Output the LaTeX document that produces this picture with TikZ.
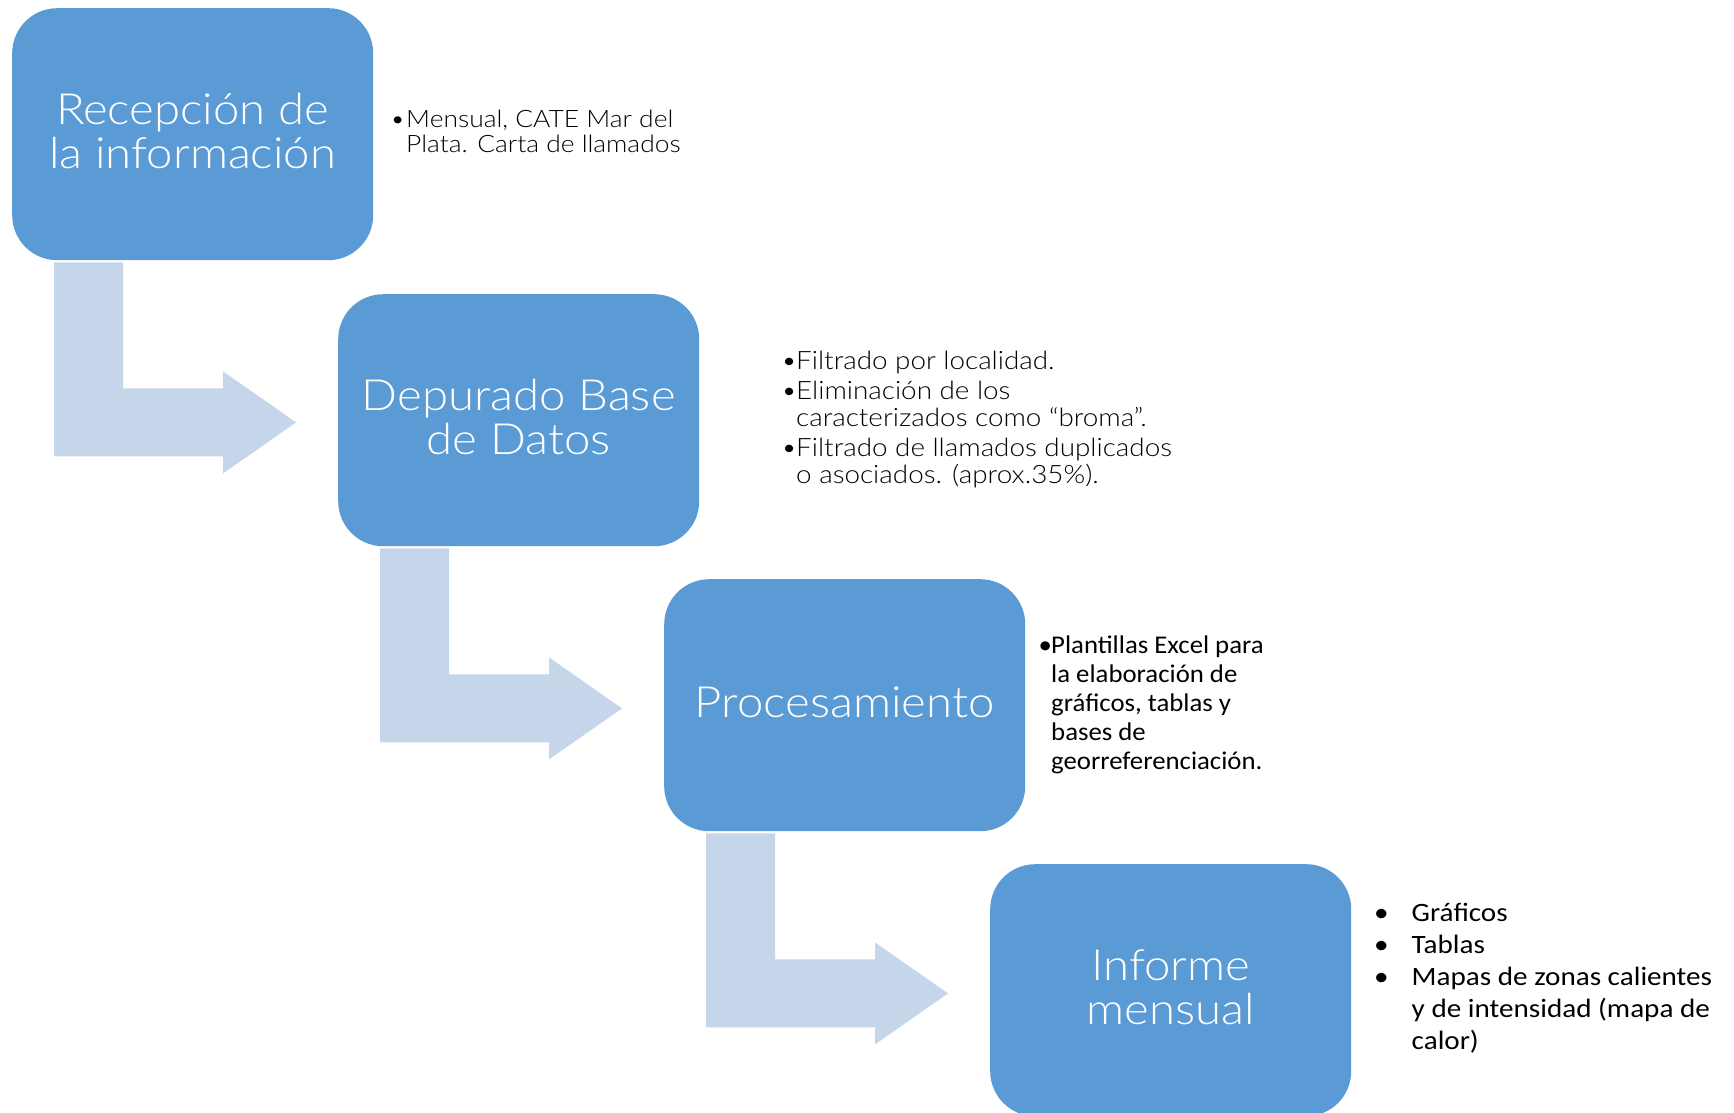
\documentclass[tikz,border=0pt]{standalone}
\usepackage{fontspec}
\IfFontExistsTF{Lato Light}
  {\setmainfont[FakeStretch=1.1]{Lato Light}}
  {\setmainfont[FakeStretch=1.1]{Lato}}
\newfontfamily\calib[FakeStretch=1.05]{Carlito}
\newfontfamily\calibw[FakeStretch=1.1]{Carlito}
\usetikzlibrary{calc}
\definecolor{boxblue}{HTML}{5B9BD5}
\definecolor{arrowblue}{HTML}{C5D5EA}
\newcommand\bitem[3][0pt]{\par\noindent\hangindent=#2\hangafter=1\makebox[#2][l]{\hspace*{#1}•}\ignorespaces #3}
\begin{document}
\begin{tikzpicture}[x=1pt,y=-1pt,
  stepbox/.style={fill=boxblue,rounded corners=45pt,minimum width=361pt,minimum height=252pt,inner sep=0pt,anchor=north west},
  boxtext/.style={text=white,inner sep=0pt,anchor=base,font=\fontsize{43}{44}\selectfont},
  note/.style={inner sep=0pt,anchor=base west,text=black},
  bent/.style={fill=arrowblue}]
\fill[white] (0,0) rectangle (1734,1113);
\useasboundingbox (0,0) rectangle (1734,1113);

\node[stepbox] (b1) at (12,8) {};
\node[stepbox] (b2) at (338,294) {};
\node[stepbox] (b3) at (664,579) {};
\node[stepbox] (b4) at (990,864) {};

\foreach \a in {b1,b2,b3}{
  \fill[bent] ($(\a.south west)+(42,2)$) -- ($(\a.south west)+(111,2)$)
    -- ($(\a.south west)+(111,128)$) -- ($(\a.south west)+(211,128)$)
    -- ($(\a.south west)+(211,111)$) -- ($(\a.south west)+(284,162)$)
    -- ($(\a.south west)+(211,213)$) -- ($(\a.south west)+(211,196)$)
    -- ($(\a.south west)+(42,196)$) -- cycle;
}

\node[boxtext] (t1) at ($(b1.center)+(0,-10)$) {\parbox[t]{361pt}{\centering Recepción de\\la información}};
\node[boxtext] (t2) at ($(b2.center)+(0,-10)$) {\parbox[t]{361pt}{\centering Depurado Base\\de Datos}};
\node[boxtext] (t3) at ($(b3.center)+(0,12.5)$) {Procesamiento};
\node[boxtext] (t4) at ($(b4.center)+(0,-10)$) {\parbox[t]{361pt}{\centering Informe\\mensual}};

\node[note] (n1) at (394,128) {\parbox[t]{400pt}{\fontsize{24}{25}\selectfont
  \bitem[-4pt]{12pt}{Mensual, CATE Mar del\newline Plata. Carta de llamados}}};

\node[note] (n2) at (785,369) {\parbox[t]{440pt}{\fontsize{25.3}{26.5}\selectfont\setlength{\parskip}{4pt}%
  \bitem[-4pt]{11pt}{Filtrado por localidad.}
  \bitem[-4pt]{11pt}{Eliminación de los\newline caracterizados como “broma”.}
  \bitem[-4pt]{11pt}{Filtrado de llamados duplicados\newline o asociados. (aprox.35\%).}}};

\node[note] (n3) at (1039.5,653.5) {\parbox[t]{300pt}{\calib\fontsize{25.5}{29}\selectfont
  \bitem[-1pt]{11.5pt}{Plantillas Excel para\newline la elaboración de\newline gráficos, tablas y\newline bases de\newline georreferenciación.}}};

\node[note] (n4) at (1378,921) {\parbox[t]{380pt}{\calibw\fontsize{26.5}{32}\selectfont\setlength{\parskip}{0pt}%
  \bitem[-4pt]{33.5pt}{Gráficos}
  \bitem[-4pt]{33.5pt}{Tablas}
  \bitem[-4pt]{33.5pt}{Mapas de zonas calientes\newline y de intensidad (mapa de\newline calor)}}};
\end{tikzpicture}
\end{document}
